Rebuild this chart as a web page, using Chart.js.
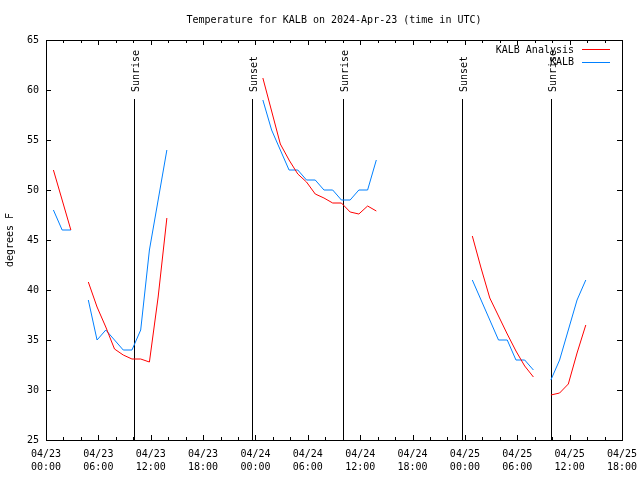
<!DOCTYPE html>
<html>
<head>
<meta charset="utf-8">
<title>Temperature for KALB</title>
<script src="https://cdn.jsdelivr.net/npm/chart.js@4.4.1/dist/chart.umd.min.js"></script>
<style>
  html, body { margin: 0; padding: 0; background: #ffffff; }
  canvas { display: block; }
</style>
</head>
<body>
<canvas id="tempChart" width="640" height="480"></canvas>
<script>
// hours since 2024-04-23 00:00 UTC (hourly obs at :51), null = missing hour
const obsHours = [
    0.85, 1.85, 2.85, 3.85,
    4.85, 5.85, 6.85, 7.85, 8.85, 9.85, 10.85, 11.85, 12.85, 13.85, 14.85,
    24.85, 25.85, 26.85, 27.85, 28.85, 29.85, 30.85, 31.85, 32.85, 33.85, 34.85, 35.85, 36.85, 37.85, 38.85,
    48.85, 49.85, 50.85, 51.85, 52.85, 53.85, 54.85, 55.85, 56.85,
    57.85, 58.85, 59.85, 60.85, 61.85
];
const analysisTemps = [
    52, 49, 46, null,
    40.8, 38.3, 36.3, 34.1, 33.5, 33.1, 33.1, 32.8, 39.3, 47.2, null,
    61.2, 57.9, 54.6, 53.0, 51.6, 50.8, 49.6, 49.2, 48.7, 48.7, 47.8, 47.6, 48.4, 47.9, null,
    45.4, 42.2, 39.2, 37.4, 35.6, 33.9, 32.4, 31.3, null,
    29.5, 29.7, 30.6, 33.7, 36.5
];
const stationTemps = [
    48, 46, 46, null,
    39, 35, 36, 35, 34, 34, 36, 44, 49, 54, null,
    59, 56, 54, 52, 52, 51, 51, 50, 50, 49, 49, 50, 50, 53, null,
    41, 39, 37, 35, 35, 33, 33, 32, null,
    31, 33, 36, 39, 41
];

// sunrise / sunset times (hours since 04/23 00:00 UTC)
const sunLabels = ['Sunrise', 'Sunset', 'Sunrise', 'Sunset', 'Sunrise'];
const sunHours = [10.12, 23.64, 34.07, 47.70, 57.90];

const xMin = 0, xMax = 66, xStep = 6, xMinorStep = 2;
const yMin = 25, yMax = 65, yStep = 5;

const monoFont = "'DejaVu Sans Mono', 'Liberation Mono', monospace";

function hourLabel(h) {
    const day = 23 + Math.floor(h / 24);
    const hh = h % 24;
    return ['04/' + day, String(hh).padStart(2, '0') + ':00'];
}

function toPoints(values) {
    return obsHours.map((h, i) => ({ x: h, y: values[i] }));
}

// gnuplot style frame, inward ticks, sun lines and legend
const gnuplotDecor = {
    id: 'gnuplotDecor',
    beforeDatasetsDraw(chart) {
        const { ctx, chartArea, scales } = chart;
        const yTop = Math.round(scales.y.getPixelForValue(59.1));
        ctx.save();
        ctx.strokeStyle = '#000000';
        ctx.fillStyle = '#000000';
        ctx.lineWidth = 1;
        ctx.font = '10px ' + monoFont;
        sunHours.forEach((h, i) => {
            const x = Math.round(scales.x.getPixelForValue(h)) + 0.5;
            ctx.beginPath();
            ctx.moveTo(x, yTop);
            ctx.lineTo(x, chartArea.bottom);
            ctx.stroke();
            ctx.save();
            ctx.translate(x + 4.5, yTop - 7);
            ctx.rotate(-Math.PI / 2);
            ctx.textAlign = 'left';
            ctx.textBaseline = 'alphabetic';
            ctx.fillText(sunLabels[i], 0, 0);
            ctx.restore();
        });
        ctx.restore();
    },
    afterDatasetsDraw(chart) {
        const { ctx, chartArea, scales } = chart;
        const { left, right, top, bottom } = chartArea;
        ctx.save();
        ctx.strokeStyle = '#000000';
        ctx.lineWidth = 1;
        ctx.beginPath();
        for (let h = xMin; h <= xMax; h += xMinorStep) {
            const x = Math.round(scales.x.getPixelForValue(h)) + 0.5;
            const len = h % xStep === 0 ? 5 : 3;
            ctx.moveTo(x, bottom);
            ctx.lineTo(x, bottom - len);
            ctx.moveTo(x, top);
            ctx.lineTo(x, top + len);
        }
        for (let v = yMin; v <= yMax; v += yStep) {
            const y = Math.round(scales.y.getPixelForValue(v)) + 0.5;
            ctx.moveTo(left, y);
            ctx.lineTo(left + 5, y);
            ctx.moveTo(right, y);
            ctx.lineTo(right - 5, y);
        }
        ctx.stroke();
        ctx.strokeRect(left + 0.5, top + 0.5, right - left, bottom - top);

        // legend
        ctx.font = '10px ' + monoFont;
        ctx.fillStyle = '#000000';
        ctx.textAlign = 'right';
        ctx.textBaseline = 'middle';
        chart.data.datasets.forEach((ds, i) => {
            const y = 50 + i * 12.5;
            ctx.fillText(ds.label, 574, y);
            ctx.strokeStyle = ds.borderColor;
            ctx.beginPath();
            ctx.moveTo(582, Math.round(y) - 0.5);
            ctx.lineTo(610, Math.round(y) - 0.5);
            ctx.stroke();
        });
        ctx.restore();
    }
};

new Chart(document.getElementById('tempChart'), {
    type: 'line',
    data: {
        datasets: [
            {
                label: 'KALB Analysis',
                data: toPoints(analysisTemps),
                borderColor: '#ff0000',
                borderWidth: 1,
                pointRadius: 0,
                tension: 0,
                spanGaps: false
            },
            {
                label: 'KALB',
                data: toPoints(stationTemps),
                borderColor: '#0080ff',
                borderWidth: 1,
                pointRadius: 0,
                tension: 0,
                spanGaps: false
            }
        ]
    },
    options: {
        responsive: false,
        animation: false,
        events: [],
        layout: { padding: { left: 0, right: 18, top: 0, bottom: 0 } },
        plugins: {
            legend: { display: false },
            tooltip: { enabled: false },
            title: {
                display: true,
                fullSize: false,
                text: 'Temperature for KALB on 2024-Apr-23 (time in UTC)',
                color: '#000000',
                font: { family: monoFont, size: 10, weight: 'normal', lineHeight: 1.2 },
                padding: { top: 14, bottom: 14 }
            }
        },
        scales: {
            x: {
                type: 'linear',
                min: xMin,
                max: xMax,
                grid: { display: false, drawTicks: false },
                border: { display: false },
                ticks: {
                    stepSize: xStep,
                    autoSkip: false,
                    maxRotation: 0,
                    padding: 8,
                    color: '#000000',
                    font: { family: monoFont, size: 10, lineHeight: 1.3 },
                    callback: (v) => hourLabel(v)
                },
                afterFit: (scale) => {
                    scale.height = 40;
                    scale.paddingLeft = 0;
                    scale.paddingRight = 0;
                }
            },
            y: {
                min: yMin,
                max: yMax,
                grid: { display: false, drawTicks: false },
                border: { display: false },
                ticks: {
                    stepSize: yStep,
                    padding: 7,
                    color: '#000000',
                    font: { family: monoFont, size: 10 }
                },
                title: {
                    display: true,
                    text: 'degrees F',
                    color: '#000000',
                    font: { family: monoFont, size: 10, lineHeight: 1.2 },
                    padding: { top: 4, bottom: 0 }
                },
                afterFit: (scale) => { scale.width = 46; }
            }
        }
    },
    plugins: [gnuplotDecor]
});
</script>
</body>
</html>
